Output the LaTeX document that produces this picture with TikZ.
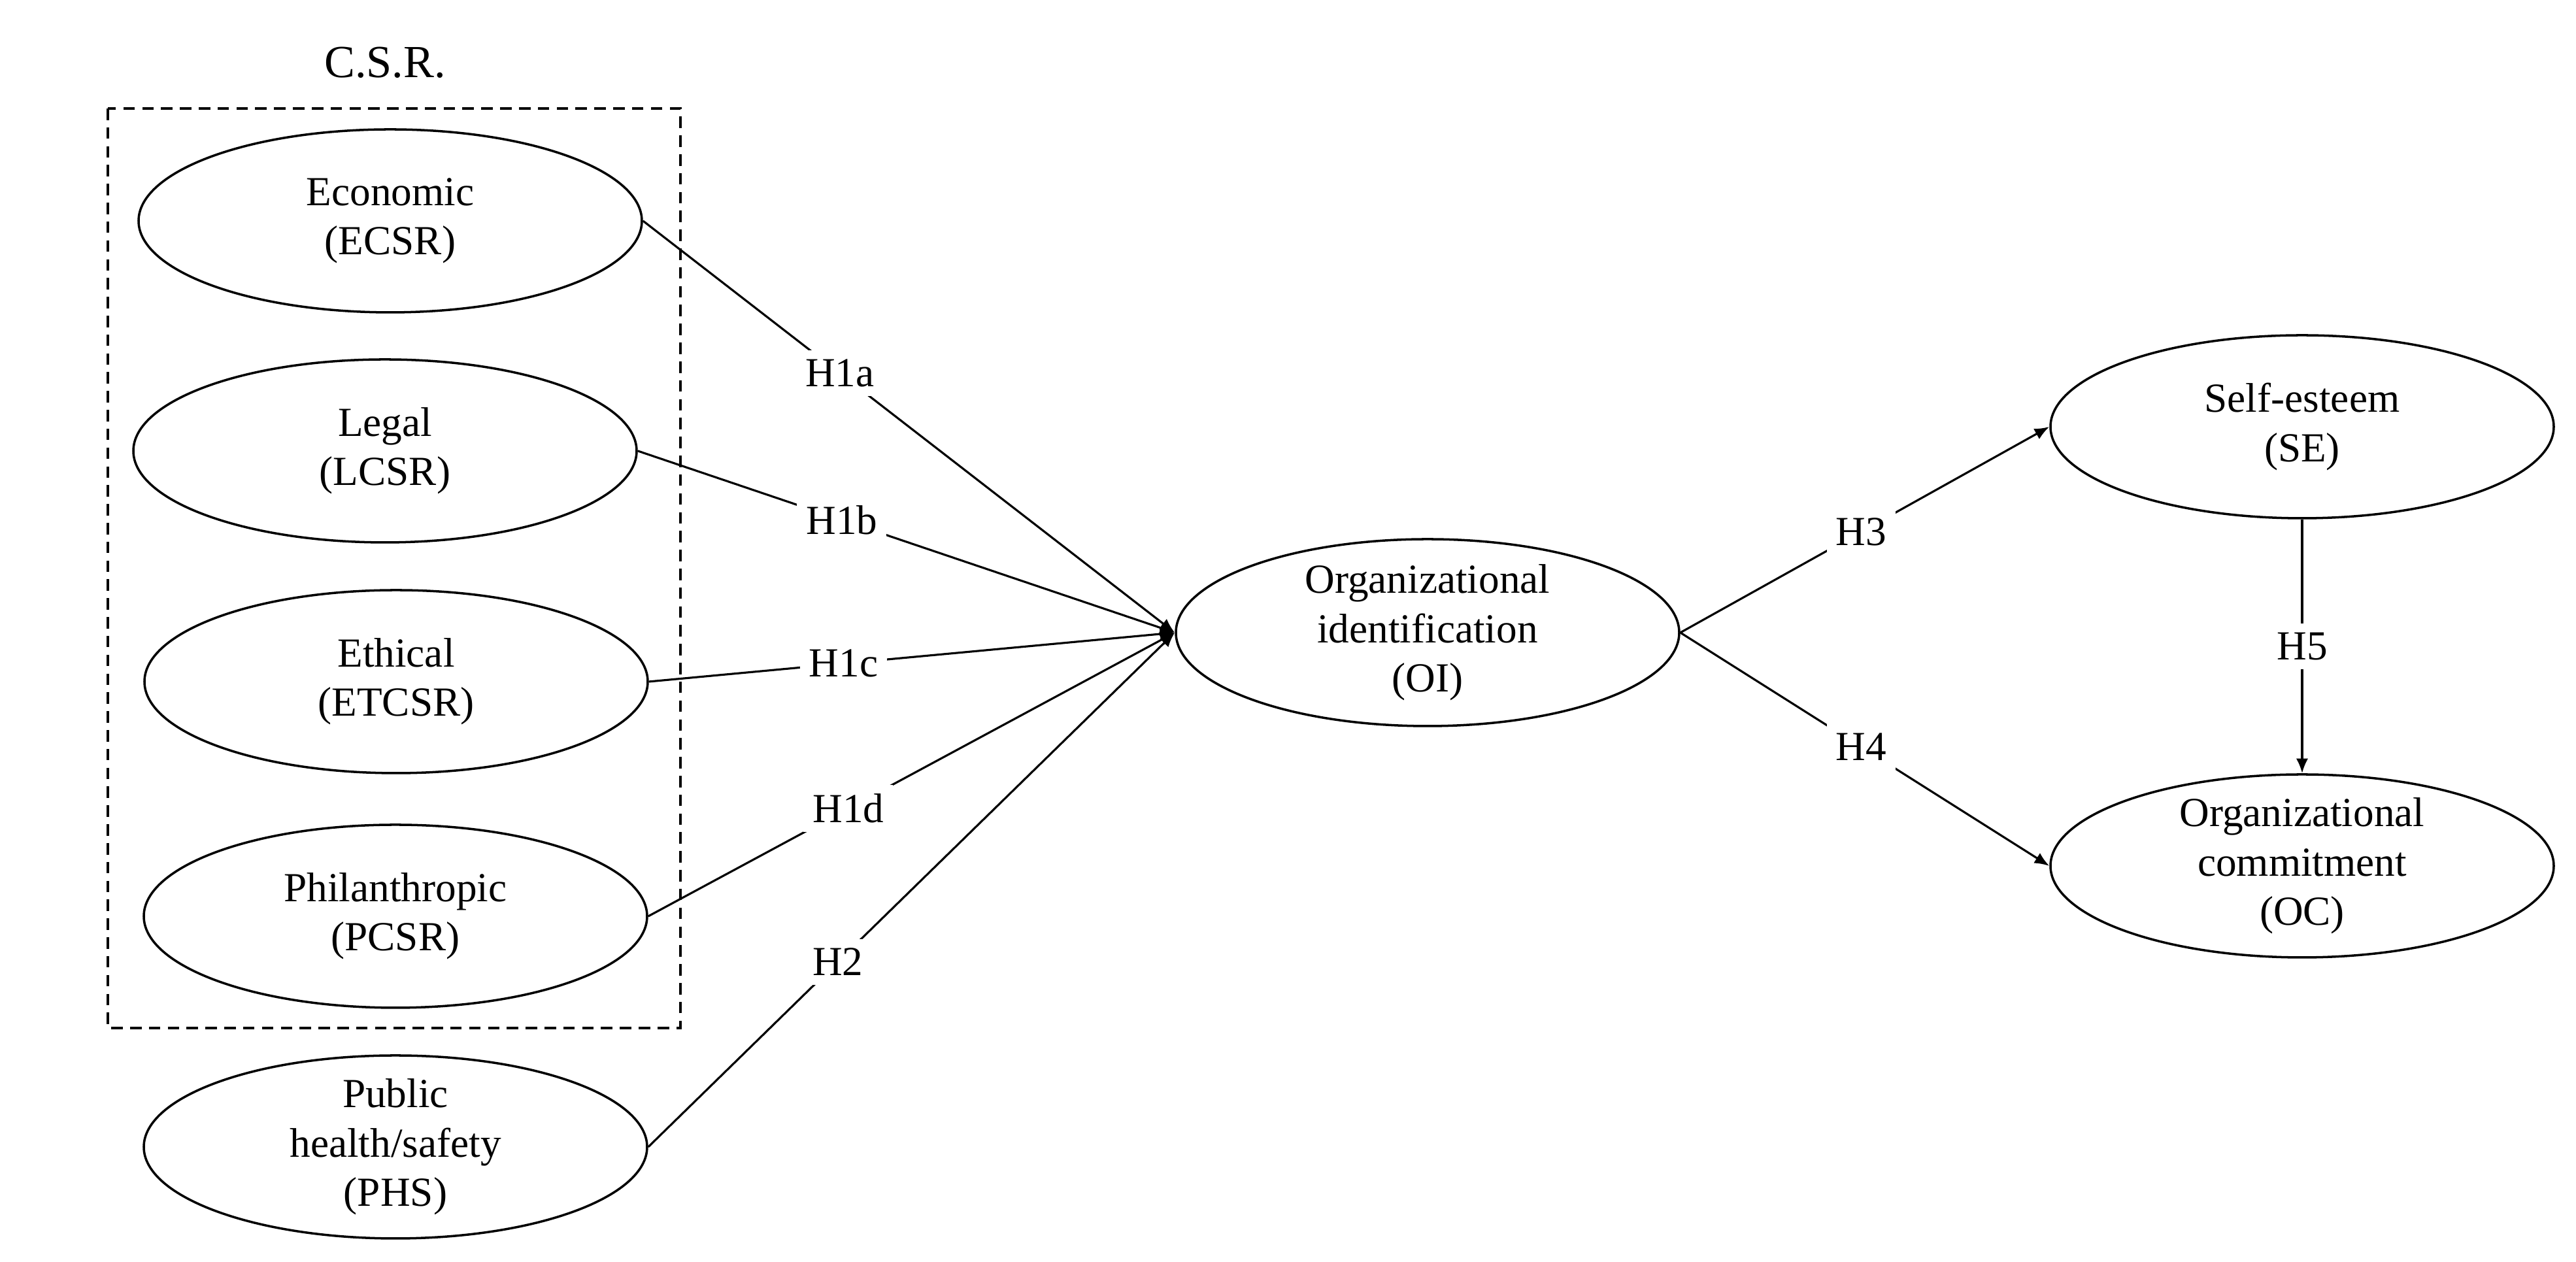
\documentclass[tikz,border=0pt]{standalone}
\usepackage{fontspec}
\setmainfont{Liberation Serif}
\usetikzlibrary{shapes.geometric, arrows.meta}

\begin{document}
\begin{tikzpicture}[
  font=\fontsize{9}{10.7}\selectfont,
  latent/.style={draw, ellipse, line width=0.5pt, minimum width=3.85cm, minimum height=1.4cm, inner xsep=0pt, inner ysep=-1.5pt, align=center},
  hyp/.style={fill=white, inner sep=2pt},
  hypline/.style={line width=0.45pt, -{Latex[length=3.2pt, width=2.6pt]}}
]
\useasboundingbox (0,0) rectangle (19.705,-9.655);

% C.S.R. group
\node[font=\fontsize{10}{12}\selectfont] (csr) at (2.945,-0.48) {C.S.R.};
\draw[line width=0.6pt, dash pattern=on 2.5pt off 1.6pt] (0.825,-0.83) rectangle (5.205,-7.865);

\node[latent] (ecsr) at (2.985,-1.69) {Economic\\(ECSR)};
\node[latent] (lcsr) at (2.945,-3.45) {Legal\\(LCSR)};
\node[latent] (etcsr) at (3.03,-5.215) {Ethical\\(ETCSR)};
\node[latent] (pcsr) at (3.025,-7.01) {Philanthropic\\(PCSR)};
\node[latent] (phs) at (3.025,-8.775) {Public\\health/safety\\(PHS)};

\node[latent, minimum height=1.43cm] (oi) at (10.92,-4.84) {Organizational\\identification\\(OI)};
\node[latent] (se) at (17.61,-3.265) {Self-esteem\\(SE)};
\node[latent] (oc) at (17.61,-6.625) {Organizational\\commitment\\(OC)};

% hypotheses
\draw[hypline] (ecsr.east) -- (oi.west) node[hyp, pos=0.37] (h1a) {H1a};
\draw[hypline] (lcsr.east) -- (oi.west) node[hyp, pos=0.38] (h1b) {H1b};
\draw[hypline] (etcsr.east) -- (oi.west) node[hyp, pos=0.37] (h1c) {H1c};
\draw[hypline] (pcsr.east) -- (oi.west) node[hyp, pos=0.38] (h1d) {H1d};
\draw[hypline] (phs.east) -- (oi.west) node[hyp, pos=0.36] (h2) {H2};
\draw[hypline] (oi.east) -- (se.west) node[hyp, pos=0.49] (h3) {H3};
\draw[hypline] (oi.east) -- (oc.west) node[hyp, pos=0.49] (h4) {H4};
\draw[hypline] (se.south) -- (oc.north) node[hyp, pos=0.5] (h5) {H5};
\end{tikzpicture}
\end{document}
